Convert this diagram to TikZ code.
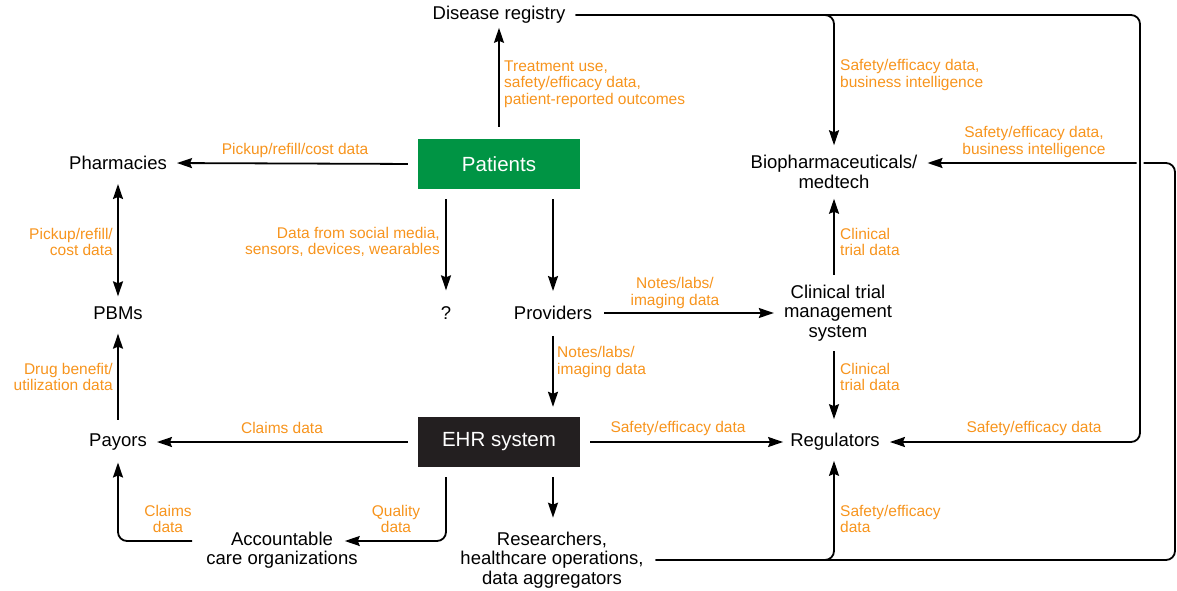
\documentclass[tikz,border=0pt]{standalone}
\usepackage{fontspec}
\setmainfont{Liberation Sans}
\usepackage{tikz}
\usetikzlibrary{positioning,arrows.meta}
\definecolor{ordata}{HTML}{F7941D}
\definecolor{patgreen}{HTML}{009444}
\definecolor{ehrblack}{HTML}{231F20}
\tikzset{
  ent_n/.style = {align=center, inner sep=0pt, text centered,
    font=\fontsize{18.5}{19.5}\selectfont},
  ent_g/.style = {rectangle, fill=patgreen, text=white,
    minimum width=162pt, minimum height=50pt,
    font=\fontsize{20.5}{22}\selectfont},% patients
  ent_k/.style = {ent_g, fill=ehrblack},% ehr
  lbl_o/.style = {inner sep=0pt, text=ordata,
    font=\fontsize{15.5}{16.5}\selectfont},
  flow/.style = {line width=1.8pt, ->, shorten <=10pt, shorten >=10pt},
  bend_r/.style = {flow, rounded corners=9pt}
}

\begin{document}
\begin{tikzpicture}[x=1pt,y=-1pt,>={Stealth[length=15pt,width=10pt,inset=2pt]}]
\useasboundingbox (0,0) rectangle (1177,591);
% entities
\node [ent_n] (dis) at (499,15) {Disease registry};
\node [ent_g] (pat) at (499,164) {Patients};
\node [ent_n] (phar) at (118,163) {Pharmacies};
\node [ent_n] (pbm) at (118,313) {PBMs};
\node [ent_n] (pay) at (118,442) {Payors};
\node [ent_n] (qm) at (446,313) {?};
\node [ent_n] (prov) at (553,313) {Providers};
\node [ent_n] (ctms) at (838,313) {Clinical trial\\management\\system};
\node [ent_n] (bio) at (834,172) {Biopharmaceuticals/\\medtech};
\node [ent_n] (reg) at (835,442) {Regulators};
\node [ent_k] (ehr) at (499,442) {EHR system};
\node [ent_n] (aco) at (282,550) {Accountable\\care organizations};
\node [ent_n] (res) at (552,560) {Researchers,\\healthcare operations,\\data aggregators};
\coordinate (rr) at (1140,442);
\coordinate (rt) at (1175,163);

% flows
\draw [flow, shorten <=12pt, shorten >=4pt] (pat.north) -- (dis.south);
\draw [flow] (pat.west) -- (phar.east);
\draw [flow, <->, shorten <=14pt] (phar.south) -- (pbm.north);
\draw [flow, shorten >=16pt] (pat.south -| qm) -- (qm.north);
\draw [flow, shorten >=15pt] (pat.south -| prov) -- (prov.north -| pat.south -| prov);
\draw [flow, shorten <=12pt] (prov.east) -- (prov.east -| ctms.west);
\draw [flow] (ctms.north -| bio) -- (bio.south);
\draw [flow, shorten >=14pt] (ctms.south -| bio) -- (reg.north -| bio);
\draw [flow, shorten <=16pt] (prov.south) -- (ehr.north -| prov);
\draw [flow] (ehr.west) -- (pay.east);
\draw [flow, shorten >=7pt] (ehr.east) -- (reg.west);
\draw [flow, shorten <=14pt, shorten >=14pt] (pay.north) -- (pbm.south);
\draw [bend_r, shorten >=0pt] (ehr.south -| qm) |- ([yshift=9pt,xshift=-13pt]aco.east);
\draw [bend_r, shorten <=14pt, shorten >=12pt] ([yshift=9pt]aco.west) -| (pay.south);
\draw [flow, shorten >=14pt] (ehr.south -| prov) -- (res.north -| prov);
\draw [bend_r, shorten <=12pt] (res.east) -| (rt) -- (rt -| bio.east);
\draw [bend_r, shorten <=12pt] (res.east) -| (reg.south -| bio);
\draw [bend_r, preaction={draw=white, line width=7pt, -}] (dis.east) -| (rr) -- (reg.east);
\draw [bend_r] (dis.east) -| (bio.north);

% labels
\node [lbl_o, anchor=west, align=left] (l_treat) at (504,84)
  {Treatment use,\\safety/efficacy data,\\patient-reported outcomes};
\node [lbl_o] (l_pick) at (295,150) {Pickup/refill/cost data};
\node [lbl_o, anchor=east, align=right] (l_pick2) at (113,242) {Pickup/refill/\\cost data};
\node [lbl_o, anchor=east, align=right] (l_social) at (440,242)
  {Data from social media,\\sensors, devices, wearables};
\node [lbl_o, align=center] (l_notes1) at (675,293) {Notes/labs/\\imaging data};
\node [lbl_o, anchor=west, align=left] (l_notes2) at (557,362) {Notes/labs/\\imaging data};
\node [lbl_o, anchor=west, align=left] (l_clin1) at (840,242) {Clinical\\trial data};
\node [lbl_o, anchor=west, align=left] (l_clin2) at (840,377) {Clinical\\trial data};
\node [lbl_o, anchor=east, align=right] (l_drug) at (113,377) {Drug benefit/\\utilization data};
\node [lbl_o] (l_claims) at (282,428) {Claims data};
\node [lbl_o] (l_safe) at (678,428) {Safety/efficacy data};
\node [lbl_o, align=center] (l_quality) at (396,519) {Quality\\data};
\node [lbl_o, align=center] (l_claims2) at (168,519) {Claims\\data};
\node [lbl_o, anchor=west, align=left] (l_se1) at (840,75) {Safety/efficacy data,\\business intelligence};
\node [lbl_o, align=center] (l_se2) at (1034,142) {Safety/efficacy data,\\business intelligence};
\node [lbl_o] (l_se3) at (1034,428) {Safety/efficacy data};
\node [lbl_o, anchor=west, align=left] (l_se4) at (840,519) {Safety/efficacy\\data};
\end{tikzpicture}
\end{document}
